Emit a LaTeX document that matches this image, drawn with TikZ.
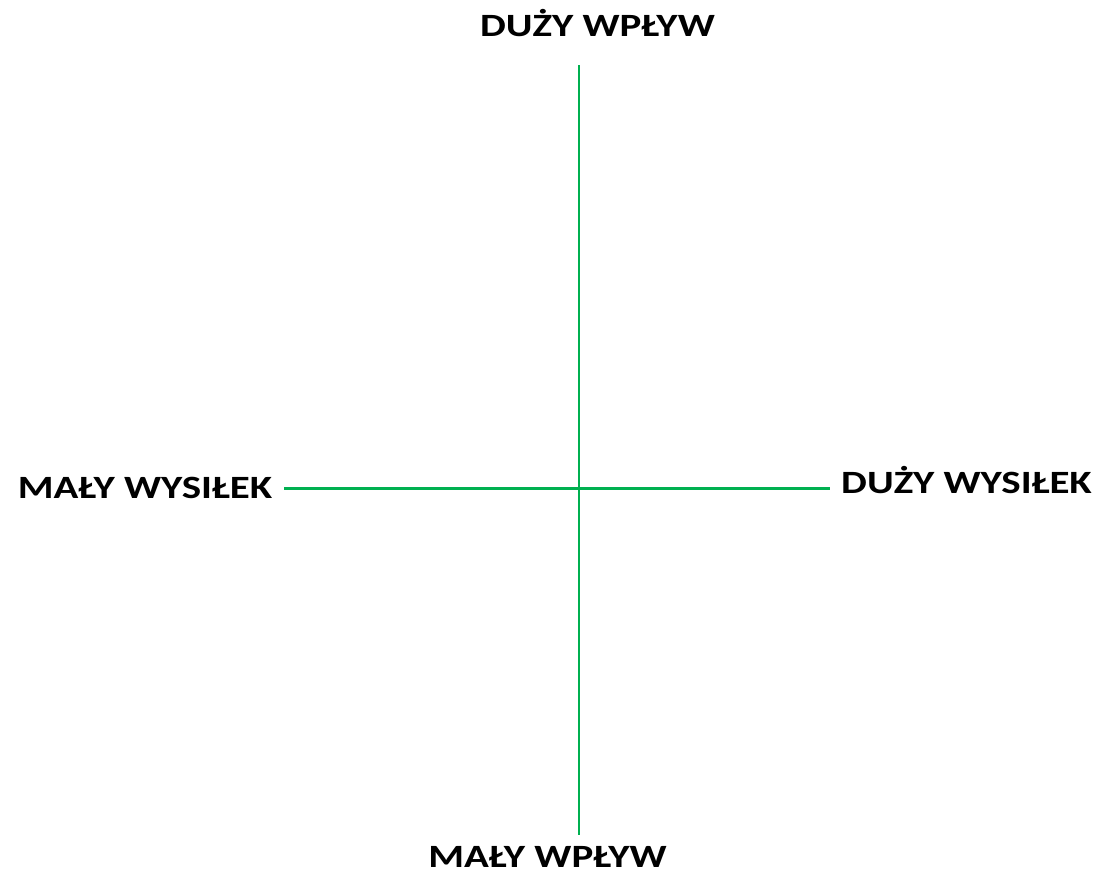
\documentclass[tikz,border=0pt]{standalone}
\usepackage{fontspec}
\setmainfont{Carlito}[FakeStretch=1.26]
\definecolor{axisgreen}{RGB}{0,176,80}
\begin{document}
\begin{tikzpicture}[x=1pt,y=-1pt,
  lbl/.style={font=\fontsize{32.5}{36}\selectfont\bfseries, inner sep=0pt, text=black},
  axis/.style={draw=axisgreen, line width=#1}]
\useasboundingbox[fill=white] (0,0) rectangle (1105,879);
\node[lbl, anchor=base] (top) at (597.5,36) {DUŻY WPŁYW};
\node[lbl, anchor=base] (bottom) at (547.5,867) {MAŁY WPŁYW};
\node[lbl, anchor=base] (left) at (145,498) {MAŁY WYSIŁEK};
\node[lbl, anchor=base] (right) at (966.5,493) {DUŻY WYSIŁEK};
\coordinate (vt) at (578.5,65);
\coordinate (vb) at (578.5,835);
\coordinate (hl) at (284,488);
\coordinate (hr) at (830,488);
\draw[axis=2pt] (vt) -- (vb);
\draw[axis=3pt] (hl) -- (hr);
\end{tikzpicture}
\end{document}
